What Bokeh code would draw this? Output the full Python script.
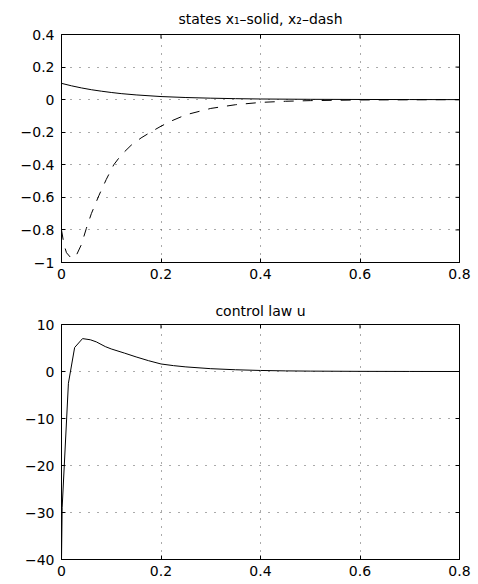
import math
from bokeh.plotting import figure
from bokeh.models import Range1d, FixedTicker
from bokeh.layouts import column
from bokeh.embed import file_html
from bokeh.resources import INLINE

# ---- data ----
t_x1 = [0.0, 0.02, 0.04, 0.06, 0.08, 0.10, 0.12, 0.15, 0.20, 0.25, 0.30, 0.35, 0.40, 0.50, 0.60, 0.70, 0.80]
x1 = [0.100, 0.085, 0.072, 0.061, 0.052, 0.044, 0.037, 0.029, 0.019, 0.013, 0.009, 0.006, 0.004, 0.002, 0.001, 0.0005, 0.0002]

t_x2 = [0.0, 0.005, 0.01, 0.02, 0.03, 0.04, 0.05, 0.06, 0.075, 0.09, 0.105, 0.12, 0.14, 0.16, 0.18, 0.20,
        0.22, 0.25, 0.30, 0.35, 0.40, 0.45, 0.50, 0.60, 0.70, 0.80]
x2 = [-0.80, -0.89, -0.94, -0.975, -0.955, -0.89, -0.79, -0.70, -0.59, -0.49, -0.40, -0.34, -0.28, -0.235,
      -0.198, -0.163, -0.132, -0.093, -0.054, -0.031, -0.017, -0.010, -0.006, -0.002, -0.001, 0.0]

t_u = [0.0, 0.0013, 0.0139, 0.0264, 0.0423, 0.058, 0.07, 0.088, 0.10, 0.127, 0.15, 0.175, 0.20, 0.225,
       0.25, 0.30, 0.35, 0.40, 0.45, 0.50, 0.60, 0.70, 0.80]
u = [-40.0, -29.0, -2.5, 5.1, 7.0, 6.75, 6.3, 5.3, 4.8, 3.9, 3.1, 2.3, 1.6, 1.25, 0.98, 0.6, 0.37, 0.22,
     0.13, 0.08, 0.03, 0.01, 0.0]

x_ticks = [0, 0.2, 0.4, 0.6, 0.8]
x_tick_labels = ["0", "0.2", "0.4", "0.6", "0.8"]
y1_ticks = [-1, -0.8, -0.6, -0.4, -0.2, 0, 0.2, 0.4]
y1_tick_labels = ["\u22121", "\u22120.8", "\u22120.6", "\u22120.4", "\u22120.2", "0", "0.2", "0.4"]
y2_ticks = [-40, -30, -20, -10, 0, 10]
y2_tick_labels = ["\u221240", "\u221230", "\u221220", "\u221210", "0", "10"]

title1 = "states x\u2081\u2013solid, x\u2082\u2013dash"
title2 = "control law u"

FONT = "DejaVu Sans"
FS = "14px"


def style(p, xt, xl, yt, yl, xr, yr, standoff):
    p.title.text_font = FONT
    p.title.text_font_size = FS
    p.title.text_font_style = "normal"
    p.title.text_color = "black"
    p.title.align = "center"
    p.title.standoff = standoff
    p.xaxis.ticker = FixedTicker(ticks=xt)
    p.yaxis.ticker = FixedTicker(ticks=yt)
    p.xaxis.major_label_overrides = {k: v for k, v in zip(xt, xl)}
    p.yaxis.major_label_overrides = {k: v for k, v in zip(yt, yl)}
    for ax in (p.xaxis[0], p.yaxis[0]):
        ax.major_tick_in = 4
        ax.major_tick_out = 0
        ax.minor_tick_in = 0
        ax.minor_tick_out = 0
        ax.axis_line_color = "black"
        ax.major_tick_line_color = "black"
        ax.major_label_text_font = FONT
        ax.major_label_text_font_size = FS
        ax.major_label_text_color = "black"
    p.xaxis.major_label_standoff = 6
    p.yaxis.major_label_standoff = 7
    p.xgrid.ticker = FixedTicker(ticks=xt)
    p.ygrid.ticker = FixedTicker(ticks=yt)
    p.grid.grid_line_color = "#555555"
    p.grid.grid_line_width = 1
    p.xgrid.grid_line_dash = "1 7"
    p.ygrid.grid_line_dash = "1 8"
    p.outline_line_color = "black"
    p.background_fill_color = "white"
    p.border_fill_color = "white"
    # inward ticks on the top and right edges of the box (half of each marker is clipped)
    p.scatter(x=[xr] * len(yt), y=yt, marker="dash", size=8, line_color="black", line_width=1)
    p.scatter(x=xt, y=[yr] * len(xt), marker="dash", size=8, angle=math.pi / 2,
              line_color="black", line_width=1)


# ---- top plot ----
p1 = figure(width=478, height=295, output_backend="svg", toolbar_location=None, title=title1,
            x_range=Range1d(0, 0.8), y_range=Range1d(-1, 0.4),
            min_border_left=61, min_border_right=19, min_border_top=33, min_border_bottom=33)
style(p1, x_ticks, x_tick_labels, y1_ticks, y1_tick_labels, 0.8, 0.4, 16)
p1.line(t_x1, x1, line_color="black", line_width=1)
p1.line(t_x2, x2, line_color="black", line_width=1, line_dash="10 9")

# ---- bottom plot ----
p2 = figure(width=478, height=289, output_backend="svg", toolbar_location=None, title=title2,
            x_range=Range1d(0, 0.8), y_range=Range1d(-40, 10),
            min_border_left=56, min_border_right=19, min_border_top=28, min_border_bottom=25)
style(p2, x_ticks, x_tick_labels, y2_ticks, y2_tick_labels, 0.8, 10, 11)
p2.line(t_u, u, line_color="black", line_width=1)

layout = column(p1, p2, spacing=0)
open("out.html", "w").write(file_html(layout, INLINE))
